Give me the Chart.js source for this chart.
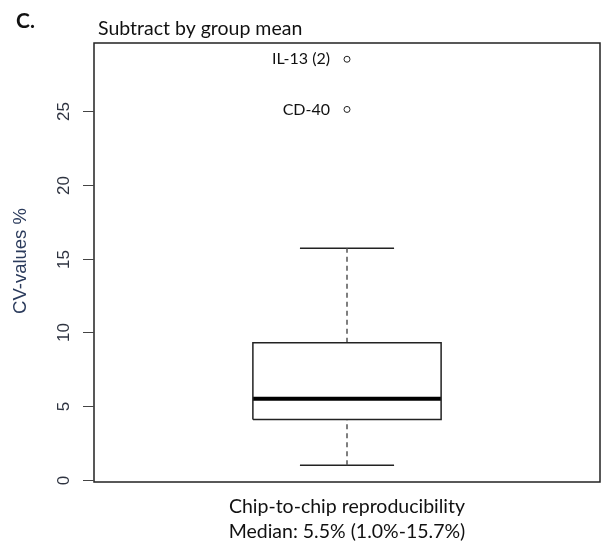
<!DOCTYPE html>
<html>
<head>
<meta charset="utf-8">
<script src="https://cdn.jsdelivr.net/npm/chart.js@4.4.1/dist/chart.umd.min.js"></script>
<style>
  body { margin: 0; background: #fff; }
  #wrap { width: 605px; height: 548px; }
</style>
</head>
<body>
<div id="wrap"><canvas id="boxChart" width="605" height="548"></canvas></div>
<script>
// box plot stats (CV %)
var boxStats = [4.1, 5.5, 9.3];        // Q1, median, Q3
var whiskers = [1.0, 15.7];            // low, high
var outlierValues = [28.5, 25.1];
var outlierNames = ['IL-13 (2)', 'CD-40'];
var yTicks = [0, 5, 10, 15, 20, 25];
var xLabel = ['Chip-to-chip reproducibility', 'Median: 5.5% (1.0%-15.7%)'];

var boxHalf = 0.186;   // half width of the box in x units
var capHalf = 0.093;

function seg(x0, y0, x1, y1) {
    return [{ x: x0, y: y0 }, { x: x1, y: y1 }];
}

var lineBase = { showLine: true, pointRadius: 0, fill: false, borderColor: '#222', borderWidth: 1.5 };

var datasets = [
    Object.assign({}, lineBase, {
        data: [
            { x: 1 - boxHalf, y: boxStats[0] }, { x: 1 + boxHalf, y: boxStats[0] },
            { x: 1 + boxHalf, y: boxStats[2] }, { x: 1 - boxHalf, y: boxStats[2] },
            { x: 1 - boxHalf, y: boxStats[0] }
        ]
    }),
    Object.assign({}, lineBase, { data: seg(1 - boxHalf, boxStats[1], 1 + boxHalf, boxStats[1]), borderColor: '#000', borderWidth: 4 }),
    Object.assign({}, lineBase, { data: seg(1, boxStats[2], 1, whiskers[1]), borderColor: '#555', borderDash: [5, 4] }),
    Object.assign({}, lineBase, { data: seg(1, whiskers[0], 1, boxStats[0]), borderColor: '#555', borderDash: [5, 4] }),
    Object.assign({}, lineBase, { data: seg(1 - capHalf, whiskers[1], 1 + capHalf, whiskers[1]) }),
    Object.assign({}, lineBase, { data: seg(1 - capHalf, whiskers[0], 1 + capHalf, whiskers[0]) }),
    {
        showLine: false,
        data: outlierValues.map(function (v) { return { x: 1, y: v }; }),
        pointRadius: 3,
        pointBackgroundColor: '#fff',
        pointBorderColor: '#222',
        pointBorderWidth: 1
    }
];

// frame, ticks and texts in the R style
var decorPlugin = {
    id: 'decor',
    afterDraw: function (chart) {
        var ctx = chart.ctx;
        var a = chart.chartArea;
        var y = chart.scales.y;
        var x = chart.scales.x;
        ctx.save();
        ctx.strokeStyle = '#222';
        ctx.lineWidth = 1.5;
        ctx.strokeRect(a.left, a.top, a.right - a.left, a.bottom - a.top);

        // y ticks
        ctx.lineWidth = 1;
        ctx.strokeStyle = '#444';
        ctx.fillStyle = '#2e3340';
        ctx.font = '17px "Liberation Sans", Arial, sans-serif';
        ctx.textAlign = 'center';
        ctx.textBaseline = 'middle';
        yTicks.forEach(function (t) {
            var py = Math.round(y.getPixelForValue(t)) + 0.5;
            ctx.beginPath();
            ctx.moveTo(a.left - 11, py);
            ctx.lineTo(a.left, py);
            ctx.stroke();
            ctx.save();
            ctx.translate(64, py);
            ctx.rotate(-Math.PI / 2);
            ctx.fillText(String(t), 0, 0);
            ctx.restore();
        });

        // y title
        ctx.save();
        ctx.fillStyle = '#2b3b5c';
        ctx.font = '18.5px "Liberation Sans", Arial, sans-serif';
        ctx.translate(21, 261);
        ctx.rotate(-Math.PI / 2);
        ctx.fillText('CV-values %', 0, 0);
        ctx.restore();

        // outlier names
        ctx.fillStyle = '#111';
        ctx.font = '16px Lato, "Open Sans", sans-serif';
        ctx.textAlign = 'right';
        outlierValues.forEach(function (v, i) {
            ctx.fillText(outlierNames[i], x.getPixelForValue(1) - 17, y.getPixelForValue(v));
        });

        // x labels
        ctx.textAlign = 'center';
        ctx.textBaseline = 'alphabetic';
        ctx.font = '19.5px Lato, "Open Sans", sans-serif';
        var cx = x.getPixelForValue(1);
        xLabel.forEach(function (s, i) {
            ctx.fillText(s, cx, 513 + i * 25);
        });

        // titles
        ctx.textAlign = 'left';
        ctx.font = '19.5px Lato, "Open Sans", sans-serif';
        ctx.fillText('Subtract by group mean', 98, 35);
        ctx.font = 'bold 21px Lato, "Open Sans", sans-serif';
        ctx.fillText('C.', 16, 28);
        ctx.restore();
    }
};

var chart = new Chart(document.getElementById('boxChart').getContext('2d'), {
    type: 'scatter',
    data: { datasets: datasets },
    options: {
        responsive: false,
        animation: false,
        layout: { padding: { left: 94, top: 43, right: 5, bottom: 66 } },
        plugins: { legend: { display: false }, tooltip: { enabled: false } },
        scales: {
            x: { type: 'linear', min: 0.5, max: 1.5, display: false },
            y: { type: 'linear', min: -0.14, max: 29.6, display: false }
        }
    },
    plugins: [decorPlugin]
});
</script>
</body>
</html>
